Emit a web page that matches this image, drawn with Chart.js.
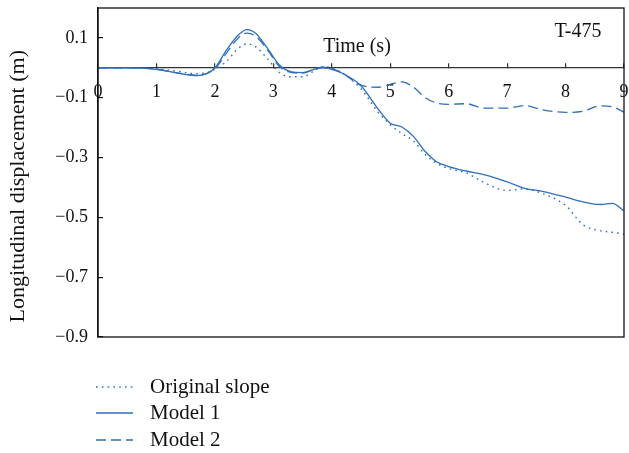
<!DOCTYPE html>
<html>
<head>
<meta charset="utf-8">
<script src="https://cdn.jsdelivr.net/npm/chart.js@4"></script>
<style>
  html, body { margin: 0; padding: 0; background: #fff; }
</style>
</head>
<body>
<canvas id="chart" width="629" height="453"></canvas>
<script>
// Time (s)
const time = [0, 0.5, 1.0, 1.3, 1.7, 2.0, 2.2, 2.4, 2.55, 2.7, 2.9, 3.1, 3.3, 3.5, 3.7, 3.85, 4.0, 4.2, 4.5, 4.8,
  5.0, 5.2, 5.4, 5.6, 5.8, 6.0, 6.3, 6.6, 7.0, 7.3, 7.6, 8.0, 8.3, 8.6, 8.8, 9.0];

// Longitudinal displacement (m)
const originalSlope = [0, 0, -0.003, -0.01, -0.02, -0.006, 0.022, 0.065, 0.08, 0.07, 0.03, -0.015, -0.03, -0.03, -0.01, 0.004,
  0.0, -0.02, -0.07, -0.15, -0.19, -0.22, -0.245, -0.29, -0.32, -0.337, -0.351, -0.383, -0.41, -0.405, -0.42, -0.46,
  -0.525, -0.545, -0.55, -0.556];
const model1 = [0, 0, -0.005, -0.015, -0.026, 0.0, 0.06, 0.11, 0.128, 0.115, 0.065, 0.01, -0.013, -0.016, -0.005, 0.0,
  -0.005, -0.02, -0.06, -0.14, -0.185, -0.198, -0.23, -0.28, -0.315, -0.33, -0.345, -0.357, -0.381, -0.403, -0.413,
  -0.432, -0.448, -0.457, -0.453, -0.478];
const model2 = [0, 0, -0.005, -0.015, -0.025, -0.003, 0.05, 0.1, 0.116, 0.105, 0.06, 0.005, -0.015, -0.018, -0.005, 0.002,
  -0.003, -0.02, -0.058, -0.065, -0.055, -0.047, -0.065, -0.1, -0.118, -0.122, -0.12, -0.135, -0.135, -0.126, -0.14,
  -0.149, -0.145, -0.127, -0.13, -0.148];

const yTicks = [-0.9, -0.7, -0.5, -0.3, -0.1, 0.1];
const xTicks = [0, 1, 2, 3, 4, 5, 6, 7, 8, 9];

const blue = "#2f6fbd";
const serif = "'Liberation Serif', 'DejaVu Serif', serif";

function points(values) {
  return time.map((t, i) => ({ x: t, y: values[i] }));
}

// no extra room for the end tick labels
function noScalePadding(scale) {
  scale.paddingLeft = 0;
  scale.paddingRight = 0;
  scale.paddingTop = 0;
  scale.paddingBottom = 0;
}

// Box around the plot, inner labels and the legend
const extras = {
  id: "extras",
  afterDraw(chart) {
    const { ctx, chartArea: a } = chart;
    ctx.save();
    ctx.strokeStyle = "#111";
    ctx.lineWidth = 1.3;
    ctx.strokeRect(a.left, a.top, a.right - a.left, a.bottom - a.top);

    ctx.fillStyle = "#111";
    ctx.font = "20px " + serif;
    ctx.textAlign = "center";
    ctx.textBaseline = "middle";
    ctx.fillText("Time (s)", 357, 47);
    ctx.fillText("T-475", 578, 32);

    // legend
    const rows = [387, 413, 440];
    ctx.font = "21px " + serif;
    chart.data.datasets.forEach((ds, i) => {
      ctx.beginPath();
      ctx.strokeStyle = ds.borderColor;
      ctx.lineWidth = ds.borderWidth;
      ctx.setLineDash(ds.borderDash || []);
      ctx.moveTo(96, rows[i]);
      ctx.lineTo(133, rows[i]);
      ctx.stroke();
      ctx.setLineDash([]);
      ctx.fillStyle = "#111";
      ctx.textAlign = "left";
      ctx.fillText(ds.label, 150, rows[i]);
    });
    ctx.restore();
  }
};

new Chart(document.getElementById("chart"), {
  type: "line",
  data: {
    datasets: [
      {
        label: "Original slope",
        data: points(originalSlope),
        borderColor: blue,
        borderWidth: 1.4,
        borderDash: [1.6, 4.2],
      },
      {
        label: "Model 1",
        data: points(model1),
        borderColor: blue,
        borderWidth: 1.3,
      },
      {
        label: "Model 2",
        data: points(model2),
        borderColor: blue,
        borderWidth: 1.3,
        borderDash: [10, 5],
      },
    ],
  },
  options: {
    responsive: false,
    animation: false,
    cubicInterpolationMode: "monotone",
    pointRadius: 0,
    layout: { padding: { top: 8, right: 5, bottom: 116, left: 0 } },
    plugins: {
      legend: { display: false },
      tooltip: { enabled: false },
    },
    scales: {
      x: {
        type: "linear",
        position: { y: 0 },
        min: 0,
        max: 9,
        afterBuildTicks: (scale) => { scale.ticks = xTicks.map(v => ({ value: v })); },
        afterFit: noScalePadding,
        grid: { drawOnChartArea: false, tickLength: -5, color: "#333", lineWidth: 1.2 },
        border: { display: true, color: "#333", width: 1.3 },
        ticks: { color: "#111", padding: 19, font: { family: serif, size: 18 }, maxRotation: 0 },
      },
      y: {
        min: -0.9,
        max: 0.2,
        afterBuildTicks: (scale) => { scale.ticks = yTicks.map(v => ({ value: v })); },
        afterFit: (scale) => { noScalePadding(scale); scale.width = 98; },
        grid: { drawOnChartArea: false, tickLength: -5, color: "#111", lineWidth: 1.2 },
        border: { display: true, color: "#111", width: 1.3 },
        ticks: {
          color: "#111",
          padding: 15,
          font: { family: serif, size: 18 },
          callback: (v) => (v < 0 ? "\u2212" : "") + Math.abs(v).toFixed(1),
        },
        title: {
          display: true,
          text: "Longitudinal displacement (m)\u00a0\u00a0\u00a0\u00a0\u00a0",
          color: "#111",
          padding: { top: 5, bottom: 0 },
          font: { family: serif, size: 22 },
        },
      },
    },
  },
  plugins: [extras],
});
</script>
</body>
</html>
